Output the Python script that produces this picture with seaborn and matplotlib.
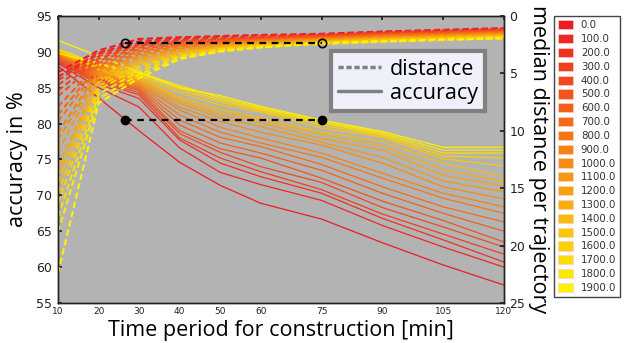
import matplotlib
matplotlib.use("Agg")
import matplotlib.pyplot as plt
import matplotlib.patches as mpatches
from matplotlib.lines import Line2D
import numpy as np
import pandas as pd
import seaborn as sns

# construction periods [min]
times = [10, 20, 30, 40, 50, 60, 75, 90, 105, 120]
x_ticks = [10, 20, 30, 40, 50, 60, 75, 90, 105, 120]

# parameter values of the individual runs
params = [0.0, 100.0, 200.0, 300.0, 400.0, 500.0, 600.0, 700.0, 800.0, 900.0,
          1000.0, 1100.0, 1200.0, 1300.0, 1400.0, 1500.0, 1600.0, 1700.0, 1800.0, 1900.0]

# accuracy in % for each run
acc_0 = [88.0, 83.6, 79.0, 74.6, 71.4, 68.9, 66.7, 63.4, 60.3, 57.5]
acc_100 = [88.4, 85.0, 82.3, 76.6, 73.2, 71.5, 69.3, 65.8, 62.8, 60.0]
acc_200 = [88.6, 85.5, 83.5, 77.7, 74.5, 72.6, 70.3, 66.8, 63.8, 60.7]
acc_300 = [88.8, 85.8, 84.0, 78.0, 75.2, 73.3, 70.8, 67.4, 64.6, 61.8]
acc_400 = [89.0, 86.0, 84.3, 78.6, 76.0, 74.0, 71.8, 68.3, 65.6, 62.8]
acc_500 = [89.2, 86.2, 84.6, 79.0, 76.5, 75.2, 72.4, 69.2, 66.5, 63.5]
acc_600 = [89.4, 86.4, 84.8, 79.8, 77.3, 75.9, 73.5, 70.3, 67.5, 65.0]
acc_700 = [89.5, 86.6, 85.0, 80.5, 78.1, 76.8, 74.3, 71.2, 68.4, 66.3]
acc_800 = [89.6, 86.8, 85.2, 81.2, 78.8, 77.3, 75.3, 72.4, 69.6, 67.5]
acc_900 = [89.7, 87.0, 85.4, 81.9, 79.5, 78.0, 75.9, 73.1, 70.3, 68.4]
acc_1000 = [89.8, 87.1, 85.6, 82.3, 80.3, 78.8, 77.0, 74.5, 71.2, 69.5]
acc_1100 = [89.9, 87.3, 85.8, 82.8, 80.8, 79.6, 77.4, 75.3, 72.0, 70.5]
acc_1200 = [90.0, 87.4, 86.0, 83.1, 81.2, 80.1, 77.9, 76.3, 72.8, 71.3]
acc_1300 = [90.0, 87.5, 86.2, 83.4, 81.6, 80.5, 78.5, 76.9, 73.6, 71.9]
acc_1400 = [90.1, 87.7, 86.4, 83.7, 82.0, 80.8, 78.8, 77.5, 74.5, 72.6]
acc_1500 = [90.2, 87.9, 86.6, 84.3, 82.6, 81.6, 79.4, 78.1, 75.1, 74.1]
acc_1600 = [90.3, 88.1, 86.8, 84.7, 83.0, 81.8, 79.8, 78.3, 75.5, 75.2]
acc_1700 = [90.4, 88.3, 87.0, 85.0, 83.3, 82.0, 80.1, 78.5, 75.9, 75.9]
acc_1800 = [89.8, 88.4, 87.1, 85.3, 83.6, 82.2, 80.3, 78.7, 76.3, 76.3]
acc_1900 = [91.6, 89.4, 87.2, 85.0, 83.9, 82.4, 80.5, 78.9, 76.7, 76.7]

# median distance per trajectory for each run
dist_0 = [4.9, 3.0, 2.0, 1.85, 1.75, 1.65, 1.55, 1.35, 1.2, 1.05]
dist_100 = [5.3, 3.2, 2.2, 1.95, 1.8, 1.7, 1.6, 1.4, 1.25, 1.1]
dist_200 = [5.6, 3.3, 2.35, 2.05, 1.9, 1.78, 1.65, 1.45, 1.3, 1.15]
dist_300 = [6.0, 3.5, 2.5, 2.15, 2.0, 1.85, 1.7, 1.5, 1.35, 1.2]
dist_400 = [6.5, 3.7, 2.6, 2.25, 2.05, 1.9, 1.75, 1.55, 1.4, 1.25]
dist_500 = [7.0, 3.9, 2.75, 2.35, 2.15, 2.0, 1.8, 1.6, 1.45, 1.3]
dist_600 = [7.9, 4.1, 2.9, 2.45, 2.2, 2.05, 1.85, 1.65, 1.5, 1.35]
dist_700 = [8.6, 4.3, 3.05, 2.55, 2.3, 2.1, 1.9, 1.7, 1.55, 1.4]
dist_800 = [9.2, 4.5, 3.2, 2.65, 2.35, 2.15, 1.95, 1.75, 1.6, 1.45]
dist_900 = [10.2, 4.7, 3.35, 2.75, 2.45, 2.2, 2.0, 1.8, 1.65, 1.5]
dist_1000 = [10.8, 4.9, 3.5, 2.85, 2.5, 2.25, 2.05, 1.85, 1.7, 1.55]
dist_1100 = [11.8, 5.1, 3.65, 2.95, 2.55, 2.3, 2.1, 1.9, 1.75, 1.6]
dist_1200 = [13.1, 5.4, 3.8, 3.05, 2.65, 2.4, 2.15, 1.95, 1.8, 1.65]
dist_1300 = [13.8, 5.6, 3.95, 3.15, 2.7, 2.45, 2.2, 2.0, 1.85, 1.7]
dist_1400 = [14.5, 5.8, 4.1, 3.25, 2.8, 2.5, 2.25, 2.05, 1.9, 1.75]
dist_1500 = [15.4, 6.1, 4.3, 3.35, 2.85, 2.55, 2.3, 2.1, 1.95, 1.8]
dist_1600 = [16.3, 6.4, 4.5, 3.45, 2.9, 2.6, 2.35, 2.15, 2.0, 1.85]
dist_1700 = [17.5, 6.8, 4.8, 3.55, 3.0, 2.65, 2.4, 2.2, 2.05, 1.9]
dist_1800 = [18.8, 7.2, 5.1, 3.65, 3.05, 2.7, 2.45, 2.25, 2.1, 1.95]
dist_1900 = [22.4, 7.6, 5.4, 3.75, 3.1, 2.75, 2.35, 2.2, 2.05, 1.95]

accuracy = [acc_0, acc_100, acc_200, acc_300, acc_400, acc_500, acc_600, acc_700,
            acc_800, acc_900, acc_1000, acc_1100, acc_1200, acc_1300, acc_1400,
            acc_1500, acc_1600, acc_1700, acc_1800, acc_1900]
distance = [dist_0, dist_100, dist_200, dist_300, dist_400, dist_500, dist_600,
            dist_700, dist_800, dist_900, dist_1000, dist_1100, dist_1200, dist_1300,
            dist_1400, dist_1500, dist_1600, dist_1700, dist_1800, dist_1900]

# comparison markers: same accuracy / distance reached at two periods
mark_times = [26.5, 75.0]
mark_acc = [80.5, 80.5]
mark_dist = [2.35, 2.35]

labels = [f"{p:.1f}" for p in params]
rows = []
for lab, acc, dist in zip(labels, accuracy, distance):
    for t, a, d in zip(times, acc, dist):
        rows.append({"time": t, "param": lab, "accuracy": a, "distance": d})
df = pd.DataFrame(rows)

sns.set_theme(style="white")
plt.rcParams["font.family"] = ["DejaVu Sans"]
palette = sns.blend_palette(["#ed1c24", "#fff200"], len(params))

fig = plt.figure(figsize=(6.24, 3.43), dpi=100)
ax = fig.add_axes([0.093, 0.1166, 0.7147, 0.8368])
ax.set_facecolor("#b3b3b3")
ax2 = ax.twinx()

sns.lineplot(data=df, x="time", y="distance", hue="param", hue_order=labels,
             palette=palette, legend=False, ax=ax2, linewidth=1.5,
             linestyle=(0, (3, 1.6)))
sns.lineplot(data=df, x="time", y="accuracy", hue="param", hue_order=labels,
             palette=palette, legend=False, ax=ax, linewidth=0.9)

ax.plot(mark_times, mark_acc, color="black", linestyle=(0, (3, 2.5)), linewidth=1.6,
        marker="o", markersize=6, markerfacecolor="black", zorder=5)
ax2.plot(mark_times, mark_dist, color="black", linestyle=(0, (3, 2.5)), linewidth=1.6,
         marker="o", markersize=6, markerfacecolor="none", markeredgewidth=1.2, zorder=5)

ax.set_xlim(10, 120)
ax.set_ylim(55, 95)
ax2.set_ylim(25, 0)
ax.set_xticks(x_ticks)
ax.set_yticks(range(55, 96, 5))
ax2.set_yticks(range(0, 26, 5))

ax.tick_params(axis="x", direction="in", length=3, labelsize=6.5, top=True, pad=3,
               colors="#222222", labelcolor="#222222")
ax.tick_params(axis="y", direction="in", length=3, labelsize=9, pad=4,
               colors="#222222", labelcolor="#222222")
ax2.tick_params(axis="y", direction="in", length=3, labelsize=9, pad=4,
                colors="#222222", labelcolor="#222222")
for a in (ax, ax2):
    for s in a.spines.values():
        s.set_color("#222222")
        s.set_linewidth(1.0)

label_font = {"family": "Open Sans", "size": 15.5, "color": "black"}
ax.set_xlabel("Time period for construction [min]", fontdict=label_font, labelpad=3)
ax.set_ylabel("accuracy in %", fontdict=label_font, labelpad=6)
ax2.set_ylabel("median distance per trajectory", fontdict=label_font,
               rotation=-90, labelpad=17)

# style legend inside the axes
style_handles = [
    Line2D([], [], color="#808080", linewidth=2.5, linestyle=(0, (1.5, 0.8))),
    Line2D([], [], color="#808080", linewidth=2.5),
]
leg1 = ax2.legend(style_handles, ["distance", "accuracy"], loc="upper right",
                  bbox_to_anchor=(0.958, 0.878), frameon=True, fancybox=False,
                  framealpha=1, facecolor="#f0f0fa", edgecolor="#808080",
                  prop={"family": "Open Sans", "size": 15.5}, handlelength=2.0,
                  handletextpad=0.4, borderpad=0.35, labelspacing=0.15,
                  borderaxespad=0)
leg1.get_frame().set_linewidth(3)
for t in leg1.get_texts():
    t.set_color("black")

# colour legend outside the axes
color_handles = [mpatches.Patch(facecolor=c, edgecolor="#ffd0c0", linewidth=0.5)
                 for c in palette]
leg2 = fig.legend(color_handles, labels, loc="upper left",
                  bbox_to_anchor=(0.888, 0.953), frameon=True, fancybox=False,
                  framealpha=1, facecolor="white", edgecolor="#444444",
                  prop={"family": "DejaVu Sans", "size": 7.4}, handlelength=1.4,
                  handleheight=1.0, handletextpad=0.8, labelspacing=0.36,
                  borderpad=0.4, borderaxespad=0)
for t in leg2.get_texts():
    t.set_color("#333333")

fig.savefig("out.png", dpi=100)
